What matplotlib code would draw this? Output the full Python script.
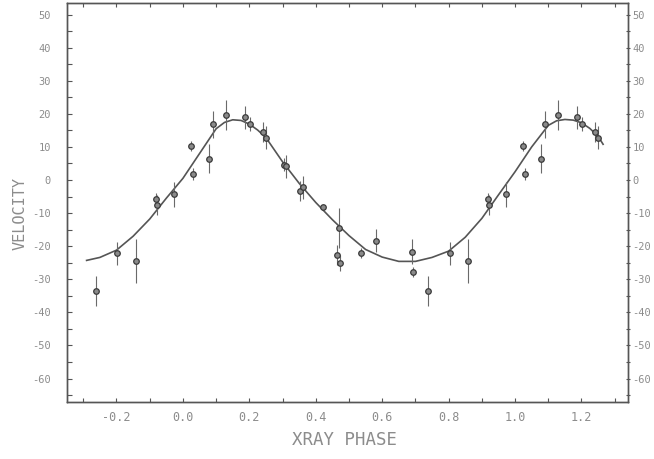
import numpy as np
import matplotlib
matplotlib.use("Agg")
import matplotlib.pyplot as plt
from matplotlib.ticker import MultipleLocator, FixedLocator

# ============================================================
# DATOS
# ============================================================
# fase única (0..1), velocidad y error; se repiten en fase-1 / fase+1
PHASE = [0.024, 0.030, 0.078, 0.091, 0.130, 0.186, 0.202, 0.241, 0.250,
         0.303, 0.309, 0.351, 0.363, 0.423, 0.465, 0.470, 0.473, 0.535,
         0.580, 0.689, 0.694, 0.739, 0.803, 0.858, 0.918, 0.921, 0.974]
VELOCITY = [10.3, 1.8, 6.4, 16.9, 19.7, 19.0, 16.9, 14.4, 12.8,
            4.6, 4.1, -3.2, -2.2, -8.1, -22.7, -14.6, -25.1, -22.1,
            -18.3, -21.7, -27.9, -33.5, -22.1, -24.4, -5.8, -7.6, -4.3]
ERROR = [1.5, 1.8, 4.4, 4.1, 4.5, 3.5, 2.0, 3.0, 3.5,
         2.0, 3.5, 3.0, 3.5, 0.0, 3.0, 6.1, 2.5, 1.5,
         3.5, 3.8, 1.5, 4.5, 3.5, 6.7, 2.0, 3.0, 3.8]

# curva ajustada
CURVE_PHASE = [-0.29, -0.25, -0.20, -0.15, -0.10, -0.05, 0.00, 0.05, 0.10, 0.125,
               0.15, 0.175, 0.20, 0.225, 0.25, 0.30, 0.35, 0.40, 0.45, 0.50,
               0.55, 0.60, 0.65, 0.70, 0.75, 0.80, 0.85, 0.90, 0.95, 1.00,
               1.05, 1.10, 1.125, 1.15, 1.175, 1.20, 1.225, 1.25, 1.265]
CURVE_VEL = [-24.3, -23.4, -21.2, -17.0, -11.8, -5.5, 0.5, 8.0, 15.5, 17.4,
             18.2, 18.0, 16.9, 15.1, 12.8, 5.5, -1.0, -6.8, -12.0, -16.8,
             -21.0, -23.3, -24.6, -24.6, -23.4, -21.5, -17.3, -11.6, -4.5, 2.5,
             10.0, 16.5, 17.9, 18.3, 18.1, 17.3, 15.6, 13.2, 10.8]

X_WINDOW = (-0.29, 1.265)
X_TICKS = [-0.2, 0.0, 0.2, 0.4, 0.6, 0.8, 1.0, 1.2]
X_LABELS = ["-0.2", "0.0", "0.2", "0.4", "0.6", "0.8", "1.0", "1.2"]
Y_TICKS = [50, 40, 30, 20, 10, 0, -10, -20, -30, -40, -50, -60]
Y_LIM = (-67.1, 53.5)

# ============================================================
# ESTILO
# ============================================================
TEXT_COLOR = "#8c8c8c"
LINE_COLOR = "#555555"
MARK_COLOR = "#3a3a3a"

plt.rcParams["font.family"] = ["DejaVu Sans Mono", "Liberation Mono"]


def style_y(ax, side, pad, direction):
    ax.set_ylim(*Y_LIM)
    ax.yaxis.set_major_locator(FixedLocator(Y_TICKS))
    ax.set_yticklabels([str(v) for v in Y_TICKS])
    ax.yaxis.set_minor_locator(MultipleLocator(5))
    ax.tick_params(axis="y", which="both", direction=direction,
                   left=(side == "left"), right=(side == "right"),
                   labelleft=(side == "left"), labelright=(side == "right"),
                   length=3.5, width=0.8, color=LINE_COLOR, pad=pad,
                   labelsize=7.5, labelcolor=TEXT_COLOR)


def main():
    fig = plt.figure(figsize=(6.54, 4.59), dpi=100)
    ax = fig.add_axes([67 / 654, 1 - 402 / 459, (628 - 67) / 654, (402 - 3) / 459])

    ph = np.asarray(PHASE)
    vel = np.asarray(VELOCITY)
    err = np.asarray(ERROR)

    # puntos repetidos en el intervalo visible
    for shift in (-1, 0, 1):
        x = ph + shift
        m = (x >= X_WINDOW[0]) & (x <= X_WINDOW[1])
        ax.errorbar(x[m], vel[m], yerr=err[m], fmt="o", ms=4.0,
                    mfc="#8a8a8a", mec=MARK_COLOR, mew=0.9,
                    ecolor="#6a6a6a", elinewidth=0.8, capsize=0, zorder=3)

    ax.plot(CURVE_PHASE, CURVE_VEL, color=LINE_COLOR, lw=1.2, zorder=2)

    ax.set_xlim(-0.349, 1.340)
    ax.xaxis.set_major_locator(FixedLocator(X_TICKS))
    ax.set_xticklabels(X_LABELS)
    ax.xaxis.set_minor_locator(MultipleLocator(0.1))
    ax.tick_params(axis="x", which="both", direction="in", top=True, bottom=True,
                   length=3, width=0.8, color=LINE_COLOR, pad=6.5,
                   labelsize=8.5, labelcolor=TEXT_COLOR)
    style_y(ax, "left", 11.5, "in")

    # eje derecho con las mismas etiquetas
    axr = ax.twinx()
    style_y(axr, "right", 1.5, "inout")

    for a in (ax, axr):
        for s in a.spines.values():
            s.set_color(LINE_COLOR)
            s.set_linewidth(1.0)

    fig.text(345 / 654, 1 - 440 / 459, "XRAY PHASE", fontsize=12.5,
             color=TEXT_COLOR, ha="center", va="center")
    fig.text(20 / 654, 1 - 213 / 459, "VELOCITY", fontsize=11,
             color=TEXT_COLOR, ha="center", va="center", rotation=90)

    fig.savefig("out.png", dpi=100)
    plt.close(fig)


if __name__ == "__main__":
    main()
